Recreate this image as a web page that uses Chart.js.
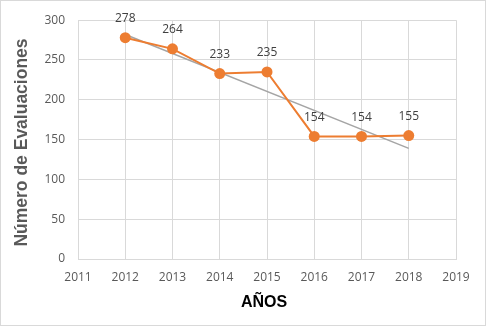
<!DOCTYPE html>
<html>
<head>
<meta charset="utf-8">
<script src="https://cdn.jsdelivr.net/npm/chart.js@4"></script>
<style>
  html, body { margin:0; padding:0; background:#fff; }
  #wrap { width:487px; height:327px; }
</style>
</head>
<body>
<div id="wrap"><canvas id="grafico" width="487" height="327"></canvas></div>
<script>
// ---------------- Datos ----------------
const anios = [2012, 2013, 2014, 2015, 2016, 2017, 2018];
const evaluaciones = [278, 264, 233, 235, 154, 154, 155];
// tendencia
const tendenciaAnios = [2012, 2018];
const tendenciaValores = [282, 139];
const tituloX = 'AÑOS';
const tituloY = 'Número de Evaluaciones';

const ctx = document.getElementById('grafico').getContext('2d');

// marco gris, titulos y etiquetas de datos
const extras = {
  id:'extras',
  beforeDraw(chart) {
    const c = chart.ctx;
    c.save();
    c.fillStyle = '#fff';
    c.fillRect(0, 0, chart.width, chart.height);
    c.strokeStyle = '#d9d9d9';
    c.lineWidth = 1;
    c.strokeRect(0.5, 0.5, 485, 325);
    c.restore();
  },
  afterDraw(chart) {
    const c = chart.ctx;
    const area = chart.chartArea;
    c.save();
    c.font = 'bold 16px "Liberation Sans"';
    c.fillStyle = '#000';
    c.textAlign = 'center';
    c.textBaseline = 'alphabetic';
    c.fillText(tituloX, (area.left + area.right) / 2 - 3, 307);
    c.translate(20.5, 142.5);
    c.rotate(-Math.PI / 2);
    c.font = 'bold 17.5px "Liberation Sans"';
    c.fillStyle = '#595959';
    c.fillText(tituloY, 0, 6.5);
    c.restore();
  },
  afterDatasetsDraw(chart) {
    const c = chart.ctx;
    const meta = chart.getDatasetMeta(1);
    c.save();
    c.font = '12px "Open Sans"';
    c.fillStyle = '#404040';
    c.textAlign = 'center';
    c.textBaseline = 'middle';
    meta.data.forEach((p, i) => {
      c.fillText(evaluaciones[i], p.x, p.y - 19);
    });
    c.restore();
  }
};

new Chart(ctx, {
  type:'scatter',
  data:{
    datasets:[
      {
        label:'Tendencia',
        data: tendenciaAnios.map((a, i) => ({ x:a, y:tendenciaValores[i] })),
        showLine:true, borderColor:'#a5a5a5', borderWidth:1.5, pointRadius:0, order:2
      },
      {
        label:'Evaluaciones',
        data: anios.map((a, i) => ({ x:a, y:evaluaciones[i] })),
        showLine:true, borderColor:'#ed7d31', backgroundColor:'#ed7d31',
        borderWidth:2, pointRadius:5.5, pointBorderWidth:0, order:1
      }
    ]
  },
  options:{
    responsive:false, animation:false,
    layout:{ padding:{ left:0, right:31, top:17, bottom:0 } },
    plugins:{ legend:{ display:false }, tooltip:{ enabled:false } },
    scales:{
      x:{
        type:'linear', min:2011, max:2019,
        ticks:{ stepSize:1, padding:11, color:'#595959', font:{ family:'Open Sans', size:12 }, callback:v => String(v) },
        grid:{ color:'#d9d9d9', drawTicks:false },
        border:{ color:'#d9d9d9' },
        afterFit(s) { s.height = 68; }
      },
      y:{
        min:0, max:300,
        ticks:{ stepSize:50, padding:13, color:'#595959', font:{ family:'Open Sans', size:12 } },
        grid:{ color:'#d9d9d9', drawTicks:false },
        border:{ color:'#d9d9d9' },
        afterFit(s) { s.width = 78; }
      }
    }
  },
  plugins:[extras]
});
</script>
</body>
</html>
